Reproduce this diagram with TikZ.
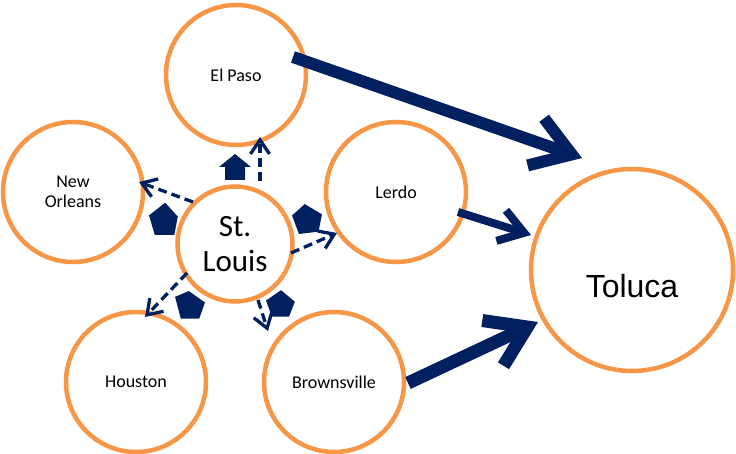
\documentclass[tikz,border=0pt]{standalone}
\usepackage{fontspec}
\setmainfont{Carlito}
\newfontfamily\arialf{Liberation Sans}
\usetikzlibrary{arrows.meta,calc}
\definecolor{orng}{HTML}{F79646}
\definecolor{navy}{HTML}{002060}
\begin{document}
\begin{tikzpicture}[x=1pt,y=-1pt,
  city/.style={circle,draw=orng,fill=white,line width=4.5pt,inner sep=0pt,
    minimum size=#1,align=center,font=\fontsize{18}{20}\selectfont},
  bigarrow/.style={draw=navy,line width=#1,
    -{Straight Barb[length=38pt,width=50pt]}},
  midarrow/.style={draw=navy,line width=#1,
    -{Straight Barb[length=24pt,width=32pt]}},
  dasharrow/.style={draw=navy,line width=3.3pt,dash pattern=on 9pt off 5pt,
    -{Straight Barb[length=14pt,width=19pt]}},
  blockmark/.style={fill=navy,draw=none}]
\useasboundingbox (0,0) rectangle (736,454);
% circles
\node[city=140pt] (ep) at (236,75) {El Paso};
\node[city=140pt] (no) at (73,192) {New\\Orleans};
\node[city=140pt] (le) at (396,192) {Lerdo};
\node[city=140pt] (ho) at (136,382) {Houston};
\node[city=140pt] (br) at (334,382) {Brownsville};
\node[city=115pt,font=\fontsize{31}{35}\selectfont] (sl) at (235,244) {St.\\Louis};
\node[city=202pt] (to) at (632,270) {};
\node[font=\arialf\fontsize{32}{36}\selectfont] (tolabel) at ($(to)+(0,16)$) {Toluca};
% big arrows to Toluca
\coordinate (eps) at (293,57);
\coordinate (ept) at (582,158);
\coordinate (les) at (458,212);
\coordinate (let) at (531,235);
\coordinate (brs) at (408,383);
\coordinate (brt) at (538,322);
\draw[bigarrow=12pt] (eps) -- (ept);
\draw[midarrow=8pt] (les) -- (let);
\draw[bigarrow=13pt] (brs) -- (brt);
% dashed arrows from St. Louis
\coordinate (d1s) at (260,181);
\coordinate (d1t) at (260,137);
\coordinate (d2s) at (193,202);
\coordinate (d2t) at (139,182);
\coordinate (d3s) at (291,253);
\coordinate (d3t) at (337,233);
\coordinate (d4s) at (187,273);
\coordinate (d4t) at (145,317);
\coordinate (d5s) at (258,300);
\coordinate (d5t) at (268,331);
\draw[dasharrow] (d1s) -- (d1t);
\draw[dasharrow] (d2s) -- (d2t);
\draw[dasharrow] (d3s) -- (d3t);
\draw[dasharrow] (d4s) -- (d4t);
\draw[dasharrow] (d5s) -- (d5t);
% small block markers
\fill[blockmark] (235,154) -- (251,167) -- (245,167) -- (245,180) -- (225,180) -- (225,167) -- (219,167) -- cycle;
\begin{scope}[shift={(164,220)},scale=1.15]
\fill[blockmark] (-13,-4) -- (1,-15) -- (12,-3) -- (9,13) -- (-8,13) -- cycle;
\end{scope}
\begin{scope}[shift={(307,219)},scale=1.15]
\fill[blockmark] (-13,-3) -- (-2,-13) -- (13,-4) -- (10,11) -- (-7,13) -- cycle;
\end{scope}
\begin{scope}[shift={(190,306)},scale=1.15]
\fill[blockmark] (-13,-8) -- (-1,-13) -- (13,-3) -- (8,11) -- (-8,11) -- cycle;
\end{scope}
\begin{scope}[shift={(281,304)},scale=1.15]
\fill[blockmark] (-13,-3) -- (0,-12) -- (12,-2) -- (7,11) -- (-8,11) -- cycle;
\end{scope}
\end{tikzpicture}
\end{document}
